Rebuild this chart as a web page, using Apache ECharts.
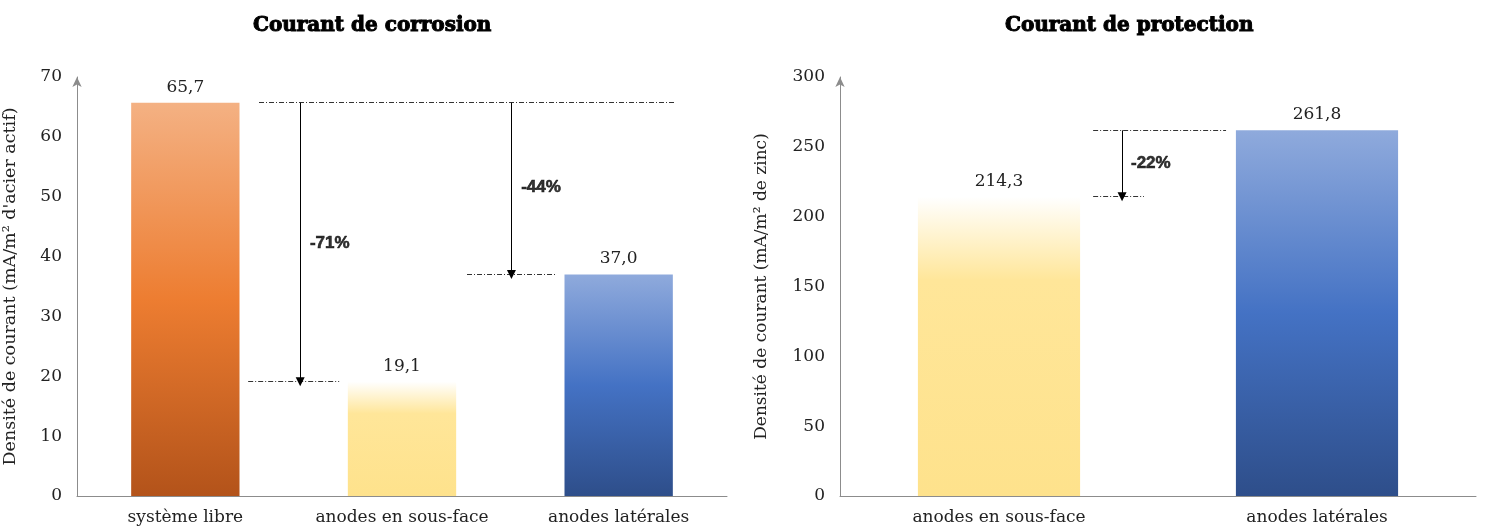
<!DOCTYPE html>
<html><head><meta charset="utf-8">
<script src="https://cdn.jsdelivr.net/npm/echarts@6/dist/echarts.min.js"></script>
<style>html,body{margin:0;padding:0;background:#fff}#c{width:1488px;height:528px}</style>
</head><body><div id="c"></div>
<script>
// ---- data ----
const corrosionCategories = ['système libre', 'anodes en sous-face', 'anodes latérales'];
const corrosionValues = [65.7, 19.1, 37.0];
const corrosionTicks = [0, 10, 20, 30, 40, 50, 60, 70];
const corrosionDrops = ['-71%', '-44%'];

const protectionCategories = ['anodes en sous-face', 'anodes latérales'];
const protectionValues = [214.3, 261.8];
const protectionTicks = [0, 50, 100, 150, 200, 250, 300];
const protectionDrops = ['-22%'];

// ---- styles ----
const FONT = 'DejaVu Serif';
const grad = (stops) => new echarts.graphic.LinearGradient(0, 0, 0, 1, stops.map(s => ({offset: s[0], color: s[1]})));
const orangeG = () => grad([[0, '#F4B183'], [0.5, '#ED7D31'], [1, '#B3531A']]);
const yellowG = () => grad([[0, '#FFFFFF'], [0.28, '#FFE699'], [1, '#FEE28C']]);
const blueG = () => grad([[0, '#8FAADC'], [0.5, '#4472C4'], [1, '#2E4E8A']]);
const fmt = v => v.toFixed(1).replace('.', ',');

const barLabel = {show: true, position: 'top', distance: 7, color: '#222', fontFamily: FONT, fontSize: 17,
  formatter: p => fmt(p.value)};

// annotation geometry (in axis units; x on hidden value axes where categories sit at 0,1,2)
const dashStyle = {color: '#333', width: 1, type: [5, 2, 1, 2], opacity: 1};
const arrowStyle = {color: '#000', width: 1, type: 'solid', opacity: 1};

const cv = corrosionValues, pv = protectionValues;
const leftDashes = [
  [[0.34, cv[0]], [2.26, cv[0]]],
  [[0.29, cv[1]], [0.71, cv[1]]],
  [[1.30, cv[2]], [1.71, cv[2]]]
];
const leftArrows = [
  [[0.53, cv[0]], [0.53, cv[1]]],
  [[1.505, cv[0]], [1.505, cv[2]]]
];
const leftLabels = [[0.575, 42.2, corrosionDrops[0]], [1.55, 51.6, corrosionDrops[1]]];

const rightDashes = [
  [[0.296, pv[1]], [0.714, pv[1]]],
  [[0.296, pv[0]], [0.456, pv[0]]]
];
const rightArrows = [[[0.387, pv[1]], [0.387, pv[0]]]];
const rightLabels = [[0.415, 238.4, protectionDrops[0]]];

const axisLineStyle = {lineStyle: {color: '#8c8c8c', width: 1}};
const yAxisBase = (gi, ticks, name, gap, nameSize) => ({
  type: 'value', gridIndex: gi, min: ticks[0], max: ticks[ticks.length - 1], interval: ticks[1] - ticks[0],
  name: name, nameLocation: 'middle', nameGap: gap, nameRotate: 90,
  nameTextStyle: {fontFamily: FONT, fontSize: nameSize, color: '#222'},
  axisLine: {show: true, onZero: false, symbol: ['none', 'arrow'], symbolSize: [7, 10], ...axisLineStyle},
  axisTick: {show: false}, splitLine: {show: false},
  axisLabel: {fontFamily: FONT, fontSize: 17, color: '#222', margin: 15}
});
const xCat = (gi, cats) => ({
  type: 'category', gridIndex: gi, data: cats,
  axisLine: {show: true, onZero: false, ...axisLineStyle}, axisTick: {show: false},
  axisLabel: {interval: 0, fontFamily: FONT, fontSize: 17, color: '#222', margin: 13}
});
const xHidden = (gi, n) => ({type: 'value', gridIndex: gi, min: -0.5, max: n - 0.5, show: false});

const linesSeries = (xi, yi, segs, style, arrow) => ({
  type: 'lines', coordinateSystem: 'cartesian2d', xAxisIndex: xi, yAxisIndex: yi, silent: true,
  symbol: arrow ? ['none', 'triangle'] : ['none', 'none'], symbolSize: arrow ? 9 : 0,
  lineStyle: style, itemStyle: {color: style.color, opacity: 1}, z: 5,
  data: segs.map(s => ({coords: s}))
});
const labelSeries = (xi, yi, labs) => ({
  type: 'scatter', xAxisIndex: xi, yAxisIndex: yi, symbolSize: 0, silent: true, z: 6,
  data: labs.map(l => ({value: [l[0], l[1]], name: l[2]})),
  label: {show: true, position: 'right', distance: 0, formatter: p => p.name,
    fontFamily: 'Liberation Sans', fontWeight: 'bold', fontSize: 17, color: '#000',
    textBorderColor: '#000', textBorderWidth: 0.6}
});

const titleStyle = {fontFamily: FONT, fontWeight: 'bold', fontSize: 20, color: '#000',
  textBorderColor: '#000', textBorderWidth: 1};

const chart = echarts.init(document.getElementById('c'), null, {renderer: 'canvas'});
chart.setOption({
  animation: false,
  backgroundColor: '#fff',
  title: [
    {text: 'Courant de corrosion', left: 248, top: 11, textStyle: titleStyle},
    {text: 'Courant de protection', left: 1000, top: 11, textStyle: titleStyle}
  ],
  grid: [
    {left: 76, right: 761, top: 77, bottom: 32},
    {left: 840, right: 12, top: 77, bottom: 32}
  ],
  xAxis: [
    xCat(0, corrosionCategories), xHidden(0, corrosionCategories.length),
    xCat(1, protectionCategories), xHidden(1, protectionCategories.length)
  ],
  yAxis: [
    yAxisBase(0, corrosionTicks, "Densité de courant (mA/m² d'acier actif)", 58, 17.5),
    yAxisBase(1, protectionTicks, 'Densité de courant (mA/m² de zinc)', 70, 17)
  ],
  series: [
    {type: 'bar', xAxisIndex: 0, yAxisIndex: 0, barWidth: '50%', label: barLabel,
      data: corrosionValues.map((v, i) => ({value: v, itemStyle: {color: [orangeG, yellowG, blueG][i]()}}))},
    {type: 'bar', xAxisIndex: 2, yAxisIndex: 1, barWidth: '51%', label: barLabel,
      data: protectionValues.map((v, i) => ({value: v, itemStyle: {color: [yellowG, blueG][i]()}}))},
    linesSeries(1, 0, leftDashes, dashStyle, false),
    linesSeries(1, 0, leftArrows, arrowStyle, true),
    labelSeries(1, 0, leftLabels),
    linesSeries(3, 1, rightDashes, dashStyle, false),
    linesSeries(3, 1, rightArrows, arrowStyle, true),
    labelSeries(3, 1, rightLabels)
  ]
});
</script></body></html>
